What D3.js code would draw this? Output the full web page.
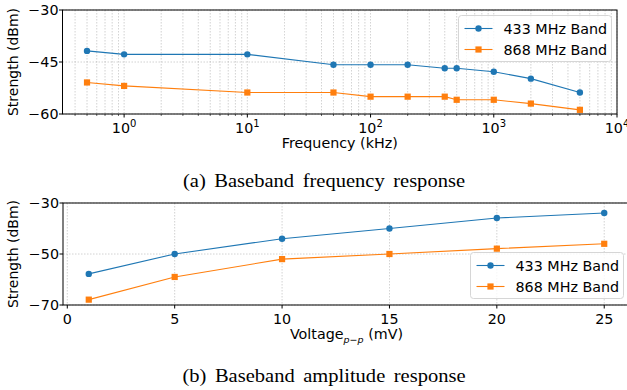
<!DOCTYPE html>
<html lang="en">
<head>
<meta charset="UTF-8">
<title>Baseband response</title>
<script src="https://d3js.org/d3.v7.min.js"></script>
<style>
    html, body { margin: 0; background: #fff; }
    svg { display: block; }
    text { font-family: "DejaVu Sans", sans-serif; fill: #000; }
    .caption { font-family: "Liberation Serif", "Times New Roman", serif; }
</style>
</head>
<body>
<div id="chart"></div>
<script>
    // (a) frequency response
    var freqs = [0.5, 1, 10, 50, 100, 200, 400, 500, 1000, 2000, 5000];
    var freq433 = [-41.8, -42.8, -42.8, -45.8, -45.8, -45.8, -46.8, -46.8, -47.8, -49.8, -53.8];
    var freq868 = [-50.9, -51.9, -53.8, -53.8, -55, -55, -55, -55.9, -55.9, -57, -58.8];
    var freqYTicks = [-30, -45, -60];
    var freqXTicks = [1, 10, 100, 1000, 10000];

    // (b) amplitude response
    var volts = [1, 5, 10, 15, 20, 25];
    var amp433 = [-57.8, -50, -44, -40, -35.9, -33.9];
    var amp868 = [-67.9, -59, -52, -50, -47.9, -46];
    var ampYTicks = [-30, -50, -70];
    var ampXTicks = [0, 5, 10, 15, 20, 25];

    var seriesNames = ["433 MHz Band", "868 MHz Band"];
    var colors = ["#1f77b4", "#ff7f0e"];

    var W = 627, H = 390;
    var FS = 14.3;
    var svg = d3.select("#chart").append("svg")
        .attr("width", W)
        .attr("height", H);

    function htext(g, x, y, anchor, size, sx) {
        return g.append("text")
            .attr("transform", "translate(" + x + "," + y + ") scale(" + (sx || 1) + ",1)")
            .attr("text-anchor", anchor)
            .style("font-size", size + "px");
    }

    function marker(g, kind, x, y, color) {
        if (kind === 0) {
            g.append("circle").attr("cx", x).attr("cy", y).attr("r", 3.2)
                .attr("fill", color);
        } else {
            g.append("rect").attr("x", x - 3.1).attr("y", y - 3.1)
                .attr("width", 6.2).attr("height", 6.2).attr("fill", color);
        }
    }

    function drawPanel(opt) {
        var g = svg.append("g");
        var x = opt.x, y = opt.y;
        var x0 = opt.box[0], x1 = opt.box[1], y0 = opt.box[2], y1 = opt.box[3];

        // grid
        opt.gridX.forEach(function (v) {
            g.append("line").attr("x1", x(v)).attr("x2", x(v))
                .attr("y1", y0).attr("y2", y1)
                .attr("stroke", "#b0b0b0").attr("stroke-width", 0.8)
                .attr("stroke-dasharray", "1.5,1.5").attr("opacity", 0.7);
        });
        opt.yTicks.forEach(function (v) {
            g.append("line").attr("x1", x0).attr("x2", x1)
                .attr("y1", y(v)).attr("y2", y(v))
                .attr("stroke", "#b0b0b0").attr("stroke-width", 0.8)
                .attr("stroke-dasharray", "1.5,1.5").attr("opacity", 0.7);
        });

        // series
        var line = d3.line()
            .x(function (d) { return x(d[0]); })
            .y(function (d) { return y(d[1]); });
        opt.series.forEach(function (s, i) {
            var pts = opt.xs.map(function (v, j) { return [v, s[j]]; });
            g.append("path").datum(pts)
                .attr("d", line)
                .attr("fill", "none")
                .attr("stroke", colors[i])
                .attr("stroke-width", 1.1);
            pts.forEach(function (p) {
                marker(g, i, x(p[0]), y(p[1]), colors[i]);
            });
        });

        // frame
        g.append("rect").attr("x", x0).attr("y", y0)
            .attr("width", x1 - x0).attr("height", y1 - y0)
            .attr("fill", "none").attr("stroke", "#000").attr("stroke-width", 1);

        // y ticks
        opt.yTicks.forEach(function (v) {
            g.append("line").attr("x1", x0 - 3.5).attr("x2", x0)
                .attr("y1", y(v)).attr("y2", y(v)).attr("stroke", "#000");
            htext(g, x0 - 4, y(v) + 5, "end", FS)
                .text(String(v).replace("-", "\u2212"));
        });

        // x minor ticks
        (opt.minorX || []).forEach(function (v) {
            g.append("line").attr("x1", x(v)).attr("x2", x(v))
                .attr("y1", y1).attr("y2", y1 + 2).attr("stroke", "#000")
                .attr("stroke-width", 0.6);
        });
        // x major ticks
        opt.xTicks.forEach(function (v) {
            g.append("line").attr("x1", x(v)).attr("x2", x(v))
                .attr("y1", y1).attr("y2", y1 + 3.5).attr("stroke", "#000");
            opt.xLabel(htext(g, x(v), y1 + 19, "middle", FS), v);
        });

        // axis titles
        g.append("text")
            .attr("transform", "translate(" + 18 + "," + ((y0 + y1) / 2) + ") rotate(-90)")
            .attr("text-anchor", "middle").style("font-size", "14px")
            .text("Strength (dBm)");
        opt.title(htext(g, (x0 + x1) / 2, y1 + 34, "middle", FS));

        // legend
        var lg = g.append("g").attr("transform", "translate(" + opt.legend[0] + "," + opt.legend[1] + ")");
        lg.append("rect").attr("width", 153).attr("height", 46).attr("rx", 3)
            .attr("fill", "#fff").attr("fill-opacity", 0.8)
            .attr("stroke", "#d6d6d6").attr("stroke-width", 1);
        seriesNames.forEach(function (n, i) {
            var cy = 13 + i * 21;
            lg.append("line").attr("x1", 6).attr("x2", 34)
                .attr("y1", cy).attr("y2", cy)
                .attr("stroke", colors[i]).attr("stroke-width", 1.1);
            marker(lg, i, 20, cy, colors[i]);
            htext(lg, 45, cy + 5, "start", FS).text(n);
        });

        // caption
        htext(g, 324, opt.captionY, "middle", 18, 1.14)
            .attr("class", "caption")
            .attr("word-spacing", "3px")
            .text(opt.caption);
    }

    // panel (a)
    var xa = d3.scaleLog().domain([Math.pow(10, -0.5), 1e4]).range([62.5, 617]);
    var ya = d3.scaleLinear().domain([-60, -30]).range([114, 10]);
    var minorA = [];
    [0.1, 1, 10, 100, 1000].forEach(function (dec) {
        for (var k = 2; k <= 9; k++) {
            var v = dec * k;
            if (v >= Math.pow(10, -0.5) && v < 1e4) minorA.push(v);
        }
    });
    drawPanel({
        x: xa, y: ya, box: [62.5, 617, 10, 114],
        xs: freqs, series: [freq433, freq868],
        yTicks: freqYTicks, xTicks: freqXTicks,
        gridX: freqXTicks.concat(minorA), minorX: minorA,
        xLabel: function (t, v) {
            t.text("10");
            t.append("tspan").attr("dy", -6).style("font-size", "10px")
                .text(Math.round(Math.log10(v)));
        },
        title: function (t) { t.text("Frequency (kHz)"); },
        legend: [458.5, 15.5],
        caption: "(a) Baseband frequency response", captionY: 187
    });

    // panel (b)
    var xb = d3.scaleLinear().domain([-0.2, 26.2]).range([63, 630]);
    var yb = d3.scaleLinear().domain([-70, -30]).range([305, 203]);
    drawPanel({
        x: xb, y: yb, box: [63, 630, 203, 305],
        xs: volts, series: [amp433, amp868],
        yTicks: ampYTicks, xTicks: ampXTicks,
        gridX: ampXTicks,
        xLabel: function (t, v) { t.text(v); },
        title: function (t) {
            t.text("Voltage");
            t.append("tspan").attr("dy", 4).style("font-size", "9.5px")
                .style("font-style", "italic").text("p\u2212p");
            t.append("tspan").attr("dy", -4).text(" (mV)");
        },
        legend: [470.5, 252.5],
        caption: "(b) Baseband amplitude response", captionY: 382
    });
</script>
</body>
</html>
